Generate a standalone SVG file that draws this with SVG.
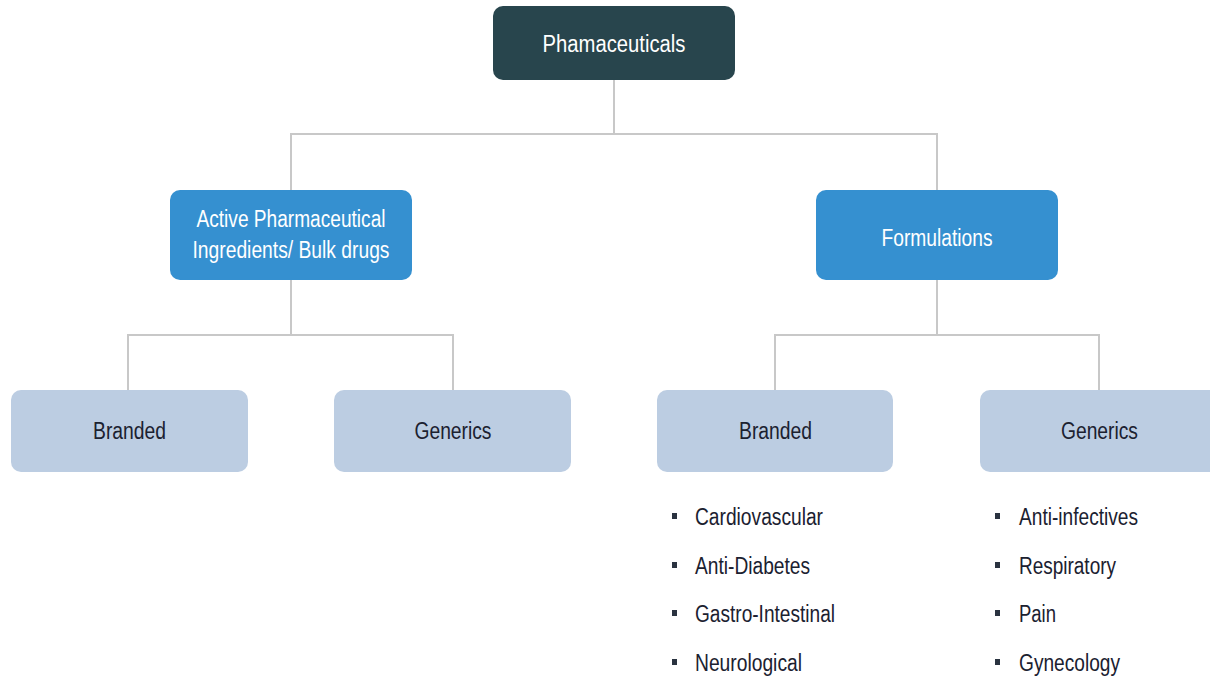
<svg xmlns="http://www.w3.org/2000/svg" width="1210" height="676" viewBox="0 0 1210 676">
<style>
text{font-family:"Liberation Sans Narrow","Liberation Sans",Arial,sans-serif;font-size:23px;}
.root rect{fill:#28454d;}
.mid rect{fill:#3590d0;}
.leaf rect{fill:#bccde2;}
.light{fill:#ffffff;}
.dark{fill:#1b2130;}
.conn{fill:none;stroke:#c8c8c8;stroke-width:2;}
.bul{fill:#2a3340;}
</style>
<rect width="1210" height="676" fill="#ffffff"/>
<g id="connectors" class="conn">
<polyline points="614,80 614,134"/>
<polyline points="291,190 291,134 937,134 937,190"/>
<polyline points="291,280 291,335"/>
<polyline points="128,390 128,335 453,335 453,390"/>
<polyline points="937,280 937,335"/>
<polyline points="775,390 775,335 1099,335 1099,390"/>
</g>
<g id="n-pharma" class="root">
<rect x="493" y="6" width="242" height="74" rx="10"/>
<text class="light" x="614" y="52" text-anchor="middle" textLength="143" lengthAdjust="spacingAndGlyphs">Phamaceuticals</text>
</g>
<g id="n-api" class="mid">
<rect x="170" y="190" width="242" height="90" rx="10"/>
<text class="light" x="291" y="227" text-anchor="middle" textLength="189" lengthAdjust="spacingAndGlyphs">Active Pharmaceutical</text>
<text class="light" x="291" y="258" text-anchor="middle" textLength="197" lengthAdjust="spacingAndGlyphs">Ingredients/ Bulk drugs</text>
</g>
<g id="n-form" class="mid">
<rect x="816" y="190" width="242" height="90" rx="10"/>
<text class="light" x="937" y="246" text-anchor="middle" textLength="111" lengthAdjust="spacingAndGlyphs">Formulations</text>
</g>
<g id="n-api-branded" class="leaf">
<rect x="11" y="390" width="237" height="82" rx="10"/>
<text class="dark" x="129.5" y="439" text-anchor="middle" textLength="73" lengthAdjust="spacingAndGlyphs">Branded</text>
</g>
<g id="n-api-generics" class="leaf">
<rect x="334" y="390" width="237" height="82" rx="10"/>
<text class="dark" x="453" y="439" text-anchor="middle" textLength="77" lengthAdjust="spacingAndGlyphs">Generics</text>
</g>
<g id="n-form-branded" class="leaf">
<rect x="657" y="390" width="236" height="82" rx="10"/>
<text class="dark" x="775.5" y="439" text-anchor="middle" textLength="73" lengthAdjust="spacingAndGlyphs">Branded</text>
</g>
<g id="n-form-generics" class="leaf">
<rect x="980" y="390" width="240" height="82" rx="10"/>
<text class="dark" x="1099.5" y="439" text-anchor="middle" textLength="77" lengthAdjust="spacingAndGlyphs">Generics</text>
</g>
<g id="list-branded">
<rect class="bul" x="672" y="513" width="5" height="6"/>
<text class="dark" x="695" y="525" textLength="128" lengthAdjust="spacingAndGlyphs">Cardiovascular</text>
<rect class="bul" x="672" y="562" width="5" height="6"/>
<text class="dark" x="695" y="574" textLength="115" lengthAdjust="spacingAndGlyphs">Anti-Diabetes</text>
<rect class="bul" x="672" y="610" width="5" height="6"/>
<text class="dark" x="695" y="622" textLength="140" lengthAdjust="spacingAndGlyphs">Gastro-Intestinal</text>
<rect class="bul" x="672" y="659" width="5" height="6"/>
<text class="dark" x="695" y="671" textLength="107" lengthAdjust="spacingAndGlyphs">Neurological</text>
</g>
<g id="list-generics">
<rect class="bul" x="995" y="513" width="5" height="6"/>
<text class="dark" x="1019" y="525" textLength="119" lengthAdjust="spacingAndGlyphs">Anti-infectives</text>
<rect class="bul" x="995" y="562" width="5" height="6"/>
<text class="dark" x="1019" y="574" textLength="97" lengthAdjust="spacingAndGlyphs">Respiratory</text>
<rect class="bul" x="995" y="610" width="5" height="6"/>
<text class="dark" x="1019" y="622" textLength="37" lengthAdjust="spacingAndGlyphs">Pain</text>
<rect class="bul" x="995" y="659" width="5" height="6"/>
<text class="dark" x="1019" y="671" textLength="101" lengthAdjust="spacingAndGlyphs">Gynecology</text>
</g>
</svg>
